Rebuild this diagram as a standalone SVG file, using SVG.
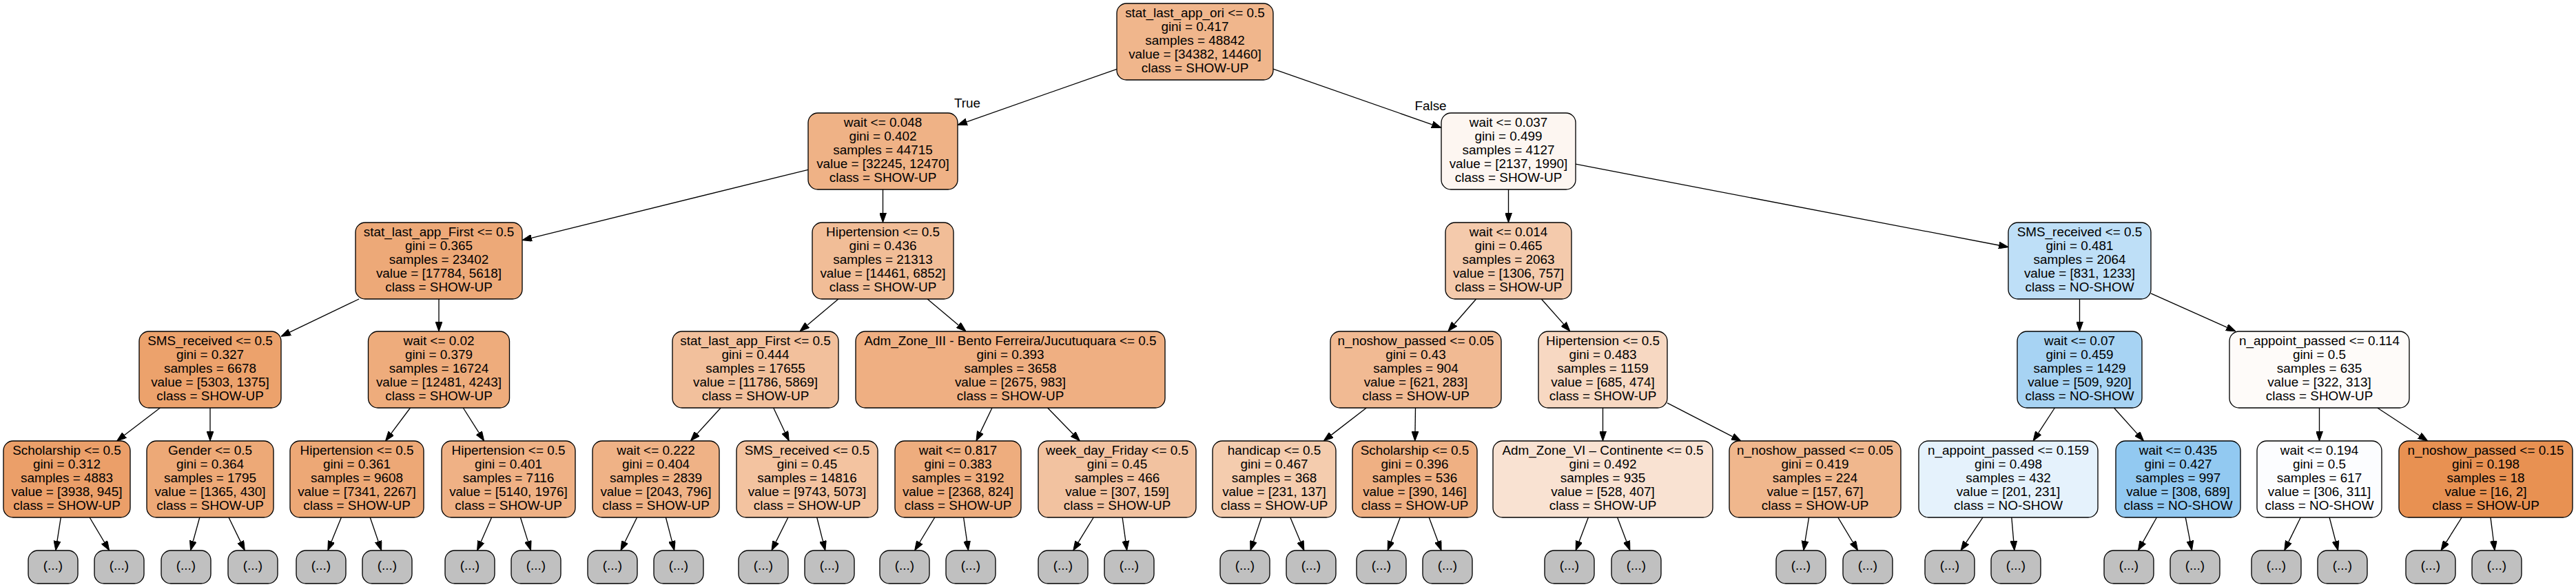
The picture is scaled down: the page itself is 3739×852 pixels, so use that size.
<svg xmlns="http://www.w3.org/2000/svg" width="3739" height="852" viewBox="0 0 3739 852">
<style>
.node rect{stroke:#000;stroke-width:1.33}
.leaf rect{fill:#c0c0c0;stroke:#000;stroke-width:1.33}
text{font-family:"Liberation Sans",Arial,Helvetica,sans-serif;font-size:18.9px;fill:#000;text-anchor:middle}
#edges line{stroke:#000;stroke-width:1.33;fill:none}
</style>
<defs>
<marker id="ah" viewBox="0 0 14 10" refX="0" refY="5" markerWidth="14" markerHeight="10" markerUnits="userSpaceOnUse" orient="auto"><path d="M0,0 L14,5 L0,10 z" fill="#000" stroke="#000" stroke-width="1"/></marker>
</defs>
<rect x="0" y="0" width="3739" height="852" fill="#fff"/>
<g id="edges">
<line x1="1621" y1="100.3" x2="1403.2" y2="176.8" marker-end="url(#ah)"/>
<line x1="1848" y1="100.2" x2="2078.8" y2="180.8" marker-end="url(#ah)"/>
<line x1="1173" y1="246.3" x2="771.6" y2="345.3" marker-end="url(#ah)"/>
<line x1="1281.5" y1="275" x2="1281.5" y2="309" marker-end="url(#ah)"/>
<line x1="2189.5" y1="275" x2="2189.5" y2="309" marker-end="url(#ah)"/>
<line x1="2287" y1="238.2" x2="2901.3" y2="356" marker-end="url(#ah)"/>
<line x1="521.1" y1="434" x2="420.6" y2="482.2" marker-end="url(#ah)"/>
<line x1="637" y1="434" x2="637" y2="467" marker-end="url(#ah)"/>
<line x1="1216.9" y1="434" x2="1171.7" y2="471.9" marker-end="url(#ah)"/>
<line x1="1346.1" y1="434" x2="1391.3" y2="471.9" marker-end="url(#ah)"/>
<line x1="2142.6" y1="434" x2="2111" y2="470.3" marker-end="url(#ah)"/>
<line x1="2237.3" y1="434" x2="2269.6" y2="470.4" marker-end="url(#ah)"/>
<line x1="3018.5" y1="434" x2="3018.5" y2="467" marker-end="url(#ah)"/>
<line x1="3122" y1="425.8" x2="3232.3" y2="475.2" marker-end="url(#ah)"/>
<line x1="232.4" y1="592" x2="180.7" y2="631.5" marker-end="url(#ah)"/>
<line x1="305" y1="592" x2="305" y2="626" marker-end="url(#ah)"/>
<line x1="595.5" y1="592" x2="567.9" y2="628.8" marker-end="url(#ah)"/>
<line x1="672.3" y1="592" x2="695.2" y2="628.2" marker-end="url(#ah)"/>
<line x1="1046.1" y1="592" x2="1011.8" y2="629.6" marker-end="url(#ah)"/>
<line x1="1122.7" y1="592" x2="1139.3" y2="627.3" marker-end="url(#ah)"/>
<line x1="1440" y1="592" x2="1423" y2="627.4" marker-end="url(#ah)"/>
<line x1="1520.6" y1="592" x2="1557.6" y2="630" marker-end="url(#ah)"/>
<line x1="1983.3" y1="592" x2="1932.3" y2="631.4" marker-end="url(#ah)"/>
<line x1="2054.5" y1="592" x2="2054" y2="626" marker-end="url(#ah)"/>
<line x1="2326.5" y1="592" x2="2326.5" y2="626" marker-end="url(#ah)"/>
<line x1="2420" y1="584.8" x2="2514.6" y2="633.6" marker-end="url(#ah)"/>
<line x1="2982.4" y1="592" x2="2958.7" y2="628.3" marker-end="url(#ah)"/>
<line x1="3068.4" y1="592" x2="3102.2" y2="629.6" marker-end="url(#ah)"/>
<line x1="3366.5" y1="592" x2="3366.5" y2="626" marker-end="url(#ah)"/>
<line x1="3450.8" y1="592" x2="3512" y2="632.3" marker-end="url(#ah)"/>
<line x1="88.3" y1="751" x2="83" y2="785.2" marker-end="url(#ah)"/>
<line x1="130.1" y1="751" x2="151.5" y2="787" marker-end="url(#ah)"/>
<line x1="289.8" y1="751" x2="280.3" y2="785.5" marker-end="url(#ah)"/>
<line x1="332" y1="751" x2="349.2" y2="786.4" marker-end="url(#ah)"/>
<line x1="495.4" y1="751" x2="481.1" y2="786" marker-end="url(#ah)"/>
<line x1="537.2" y1="751" x2="549.1" y2="785.8" marker-end="url(#ah)"/>
<line x1="713.6" y1="751" x2="698.2" y2="786.2" marker-end="url(#ah)"/>
<line x1="755.4" y1="751" x2="766.3" y2="785.6" marker-end="url(#ah)"/>
<line x1="924.6" y1="751" x2="907.1" y2="786.5" marker-end="url(#ah)"/>
<line x1="966.4" y1="751" x2="975.3" y2="785.4" marker-end="url(#ah)"/>
<line x1="1143.9" y1="751" x2="1126.2" y2="786.5" marker-end="url(#ah)"/>
<line x1="1185.7" y1="751" x2="1194.4" y2="785.4" marker-end="url(#ah)"/>
<line x1="1356.8" y1="751" x2="1334.9" y2="787" marker-end="url(#ah)"/>
<line x1="1398.6" y1="751" x2="1403.5" y2="785.1" marker-end="url(#ah)"/>
<line x1="1587.3" y1="751" x2="1565.1" y2="787.1" marker-end="url(#ah)"/>
<line x1="1629.1" y1="751" x2="1633.8" y2="785.1" marker-end="url(#ah)"/>
<line x1="1831" y1="751" x2="1819.4" y2="785.7" marker-end="url(#ah)"/>
<line x1="1872.8" y1="751" x2="1887.5" y2="786.1" marker-end="url(#ah)"/>
<line x1="2032.4" y1="751" x2="2019.1" y2="785.9" marker-end="url(#ah)"/>
<line x1="2074.2" y1="751" x2="2087.2" y2="785.9" marker-end="url(#ah)"/>
<line x1="2305.4" y1="751" x2="2292.1" y2="785.9" marker-end="url(#ah)"/>
<line x1="2347.6" y1="751" x2="2360.9" y2="785.9" marker-end="url(#ah)"/>
<line x1="2625.6" y1="751" x2="2620.1" y2="785.2" marker-end="url(#ah)"/>
<line x1="2667.8" y1="751" x2="2689.4" y2="787" marker-end="url(#ah)"/>
<line x1="2878" y1="751" x2="2853.8" y2="787.4" marker-end="url(#ah)"/>
<line x1="2919.8" y1="751" x2="2922.7" y2="785.1" marker-end="url(#ah)"/>
<line x1="3130.4" y1="751" x2="3110.3" y2="786.8" marker-end="url(#ah)"/>
<line x1="3172.2" y1="751" x2="3178.8" y2="785.2" marker-end="url(#ah)"/>
<line x1="3339.3" y1="751" x2="3321.9" y2="786.4" marker-end="url(#ah)"/>
<line x1="3381.1" y1="751" x2="3390.1" y2="785.5" marker-end="url(#ah)"/>
<line x1="3573.2" y1="751" x2="3550.5" y2="787.1" marker-end="url(#ah)"/>
<line x1="3615" y1="751" x2="3619.3" y2="785.1" marker-end="url(#ah)"/>
<text x="1404" y="156">True</text>
<text x="2076.5" y="160">False</text>
</g>
<g id="n0" class="node"><rect x="1621" y="5" width="227" height="111" rx="14" fill="#f0b68c"/><text y="25"><tspan x="1734.5">stat_last_app_ori &lt;= 0.5</tspan><tspan x="1734.5" dy="20">gini = 0.417</tspan><tspan x="1734.5" dy="20">samples = 48842</tspan><tspan x="1734.5" dy="20">value = [34382, 14460]</tspan><tspan x="1734.5" dy="20">class = SHOW-UP</tspan></text></g>
<g id="n1" class="node"><rect x="1173" y="164" width="217" height="111" rx="14" fill="#efb286"/><text y="184"><tspan x="1281.5">wait &lt;= 0.048</tspan><tspan x="1281.5" dy="20">gini = 0.402</tspan><tspan x="1281.5" dy="20">samples = 44715</tspan><tspan x="1281.5" dy="20">value = [32245, 12470]</tspan><tspan x="1281.5" dy="20">class = SHOW-UP</tspan></text></g>
<g id="n2" class="node"><rect x="2092" y="164" width="195" height="111" rx="14" fill="#fdf6f1"/><text y="184"><tspan x="2189.5">wait &lt;= 0.037</tspan><tspan x="2189.5" dy="20">gini = 0.499</tspan><tspan x="2189.5" dy="20">samples = 4127</tspan><tspan x="2189.5" dy="20">value = [2137, 1990]</tspan><tspan x="2189.5" dy="20">class = SHOW-UP</tspan></text></g>
<g id="n3" class="node"><rect x="516" y="323" width="242" height="111" rx="14" fill="#eda978"/><text y="343"><tspan x="637">stat_last_app_First &lt;= 0.5</tspan><tspan x="637" dy="20">gini = 0.365</tspan><tspan x="637" dy="20">samples = 23402</tspan><tspan x="637" dy="20">value = [17784, 5618]</tspan><tspan x="637" dy="20">class = SHOW-UP</tspan></text></g>
<g id="n4" class="node"><rect x="1179" y="323" width="205" height="111" rx="14" fill="#f1bd97"/><text y="343"><tspan x="1281.5">Hipertension &lt;= 0.5</tspan><tspan x="1281.5" dy="20">gini = 0.436</tspan><tspan x="1281.5" dy="20">samples = 21313</tspan><tspan x="1281.5" dy="20">value = [14461, 6852]</tspan><tspan x="1281.5" dy="20">class = SHOW-UP</tspan></text></g>
<g id="n5" class="node"><rect x="2098" y="323" width="183" height="111" rx="14" fill="#f4caac"/><text y="343"><tspan x="2189.5">wait &lt;= 0.014</tspan><tspan x="2189.5" dy="20">gini = 0.465</tspan><tspan x="2189.5" dy="20">samples = 2063</tspan><tspan x="2189.5" dy="20">value = [1306, 757]</tspan><tspan x="2189.5" dy="20">class = SHOW-UP</tspan></text></g>
<g id="n6" class="node"><rect x="2915" y="323" width="207" height="111" rx="14" fill="#bedff7"/><text y="343"><tspan x="3018.5">SMS_received &lt;= 0.5</tspan><tspan x="3018.5" dy="20">gini = 0.481</tspan><tspan x="3018.5" dy="20">samples = 2064</tspan><tspan x="3018.5" dy="20">value = [831, 1233]</tspan><tspan x="3018.5" dy="20">class = NO-SHOW</tspan></text></g>
<g id="n7" class="node"><rect x="202" y="481" width="206" height="111" rx="14" fill="#eca26c"/><text y="501"><tspan x="305">SMS_received &lt;= 0.5</tspan><tspan x="305" dy="20">gini = 0.327</tspan><tspan x="305" dy="20">samples = 6678</tspan><tspan x="305" dy="20">value = [5303, 1375]</tspan><tspan x="305" dy="20">class = SHOW-UP</tspan></text></g>
<g id="n8" class="node"><rect x="534.5" y="481" width="205" height="111" rx="14" fill="#eeac7c"/><text y="501"><tspan x="637">wait &lt;= 0.02</tspan><tspan x="637" dy="20">gini = 0.379</tspan><tspan x="637" dy="20">samples = 16724</tspan><tspan x="637" dy="20">value = [12481, 4243]</tspan><tspan x="637" dy="20">class = SHOW-UP</tspan></text></g>
<g id="n9" class="node"><rect x="976" y="481" width="241" height="111" rx="14" fill="#f2c09c"/><text y="501"><tspan x="1096.5">stat_last_app_First &lt;= 0.5</tspan><tspan x="1096.5" dy="20">gini = 0.444</tspan><tspan x="1096.5" dy="20">samples = 17655</tspan><tspan x="1096.5" dy="20">value = [11786, 5869]</tspan><tspan x="1096.5" dy="20">class = SHOW-UP</tspan></text></g>
<g id="n10" class="node"><rect x="1242" y="481" width="449" height="111" rx="14" fill="#efaf82"/><text y="501"><tspan x="1466.5">Adm_Zone_III - Bento Ferreira/Jucutuquara &lt;= 0.5</tspan><tspan x="1466.5" dy="20">gini = 0.393</tspan><tspan x="1466.5" dy="20">samples = 3658</tspan><tspan x="1466.5" dy="20">value = [2675, 983]</tspan><tspan x="1466.5" dy="20">class = SHOW-UP</tspan></text></g>
<g id="n11" class="node"><rect x="1931" y="481" width="248" height="111" rx="14" fill="#f1ba93"/><text y="501"><tspan x="2055">n_noshow_passed &lt;= 0.05</tspan><tspan x="2055" dy="20">gini = 0.43</tspan><tspan x="2055" dy="20">samples = 904</tspan><tspan x="2055" dy="20">value = [621, 283]</tspan><tspan x="2055" dy="20">class = SHOW-UP</tspan></text></g>
<g id="n12" class="node"><rect x="2233" y="481" width="187" height="111" rx="14" fill="#f7d8c2"/><text y="501"><tspan x="2326.5">Hipertension &lt;= 0.5</tspan><tspan x="2326.5" dy="20">gini = 0.483</tspan><tspan x="2326.5" dy="20">samples = 1159</tspan><tspan x="2326.5" dy="20">value = [685, 474]</tspan><tspan x="2326.5" dy="20">class = SHOW-UP</tspan></text></g>
<g id="n13" class="node"><rect x="2928" y="481" width="181" height="111" rx="14" fill="#a7d3f3"/><text y="501"><tspan x="3018.5">wait &lt;= 0.07</tspan><tspan x="3018.5" dy="20">gini = 0.459</tspan><tspan x="3018.5" dy="20">samples = 1429</tspan><tspan x="3018.5" dy="20">value = [509, 920]</tspan><tspan x="3018.5" dy="20">class = NO-SHOW</tspan></text></g>
<g id="n14" class="node"><rect x="3236" y="481" width="261" height="111" rx="14" fill="#fefbf9"/><text y="501"><tspan x="3366.5">n_appoint_passed &lt;= 0.114</tspan><tspan x="3366.5" dy="20">gini = 0.5</tspan><tspan x="3366.5" dy="20">samples = 635</tspan><tspan x="3366.5" dy="20">value = [322, 313]</tspan><tspan x="3366.5" dy="20">class = SHOW-UP</tspan></text></g>
<g id="n15" class="node"><rect x="5" y="640" width="184" height="111" rx="14" fill="#eb9f69"/><text y="660"><tspan x="97">Scholarship &lt;= 0.5</tspan><tspan x="97" dy="20">gini = 0.312</tspan><tspan x="97" dy="20">samples = 4883</tspan><tspan x="97" dy="20">value = [3938, 945]</tspan><tspan x="97" dy="20">class = SHOW-UP</tspan></text></g>
<g id="n16" class="node"><rect x="213" y="640" width="184" height="111" rx="14" fill="#eda977"/><text y="660"><tspan x="305">Gender &lt;= 0.5</tspan><tspan x="305" dy="20">gini = 0.364</tspan><tspan x="305" dy="20">samples = 1795</tspan><tspan x="305" dy="20">value = [1365, 430]</tspan><tspan x="305" dy="20">class = SHOW-UP</tspan></text></g>
<g id="n17" class="node"><rect x="421" y="640" width="194" height="111" rx="14" fill="#eda876"/><text y="660"><tspan x="518">Hipertension &lt;= 0.5</tspan><tspan x="518" dy="20">gini = 0.361</tspan><tspan x="518" dy="20">samples = 9608</tspan><tspan x="518" dy="20">value = [7341, 2267]</tspan><tspan x="518" dy="20">class = SHOW-UP</tspan></text></g>
<g id="n18" class="node"><rect x="641" y="640" width="194" height="111" rx="14" fill="#efb185"/><text y="660"><tspan x="738">Hipertension &lt;= 0.5</tspan><tspan x="738" dy="20">gini = 0.401</tspan><tspan x="738" dy="20">samples = 7116</tspan><tspan x="738" dy="20">value = [5140, 1976]</tspan><tspan x="738" dy="20">class = SHOW-UP</tspan></text></g>
<g id="n19" class="node"><rect x="860" y="640" width="184" height="111" rx="14" fill="#efb286"/><text y="660"><tspan x="952">wait &lt;= 0.222</tspan><tspan x="952" dy="20">gini = 0.404</tspan><tspan x="952" dy="20">samples = 2839</tspan><tspan x="952" dy="20">value = [2043, 796]</tspan><tspan x="952" dy="20">class = SHOW-UP</tspan></text></g>
<g id="n20" class="node"><rect x="1069" y="640" width="205" height="111" rx="14" fill="#f3c3a0"/><text y="660"><tspan x="1171.5">SMS_received &lt;= 0.5</tspan><tspan x="1171.5" dy="20">gini = 0.45</tspan><tspan x="1171.5" dy="20">samples = 14816</tspan><tspan x="1171.5" dy="20">value = [9743, 5073]</tspan><tspan x="1171.5" dy="20">class = SHOW-UP</tspan></text></g>
<g id="n21" class="node"><rect x="1299" y="640" width="183" height="111" rx="14" fill="#eead7e"/><text y="660"><tspan x="1390.5">wait &lt;= 0.817</tspan><tspan x="1390.5" dy="20">gini = 0.383</tspan><tspan x="1390.5" dy="20">samples = 3192</tspan><tspan x="1390.5" dy="20">value = [2368, 824]</tspan><tspan x="1390.5" dy="20">class = SHOW-UP</tspan></text></g>
<g id="n22" class="node"><rect x="1507" y="640" width="229" height="111" rx="14" fill="#f2c2a0"/><text y="660"><tspan x="1621.5">week_day_Friday &lt;= 0.5</tspan><tspan x="1621.5" dy="20">gini = 0.45</tspan><tspan x="1621.5" dy="20">samples = 466</tspan><tspan x="1621.5" dy="20">value = [307, 159]</tspan><tspan x="1621.5" dy="20">class = SHOW-UP</tspan></text></g>
<g id="n23" class="node"><rect x="1760" y="640" width="179" height="111" rx="14" fill="#f4ccae"/><text y="660"><tspan x="1849.5">handicap &lt;= 0.5</tspan><tspan x="1849.5" dy="20">gini = 0.467</tspan><tspan x="1849.5" dy="20">samples = 368</tspan><tspan x="1849.5" dy="20">value = [231, 137]</tspan><tspan x="1849.5" dy="20">class = SHOW-UP</tspan></text></g>
<g id="n24" class="node"><rect x="1963" y="640" width="181" height="111" rx="14" fill="#efb083"/><text y="660"><tspan x="2053.5">Scholarship &lt;= 0.5</tspan><tspan x="2053.5" dy="20">gini = 0.396</tspan><tspan x="2053.5" dy="20">samples = 536</tspan><tspan x="2053.5" dy="20">value = [390, 146]</tspan><tspan x="2053.5" dy="20">class = SHOW-UP</tspan></text></g>
<g id="n25" class="node"><rect x="2167" y="640" width="319" height="111" rx="14" fill="#f9e2d2"/><text y="660"><tspan x="2326.5">Adm_Zone_VI – Continente &lt;= 0.5</tspan><tspan x="2326.5" dy="20">gini = 0.492</tspan><tspan x="2326.5" dy="20">samples = 935</tspan><tspan x="2326.5" dy="20">value = [528, 407]</tspan><tspan x="2326.5" dy="20">class = SHOW-UP</tspan></text></g>
<g id="n26" class="node"><rect x="2510" y="640" width="249" height="111" rx="14" fill="#f0b78d"/><text y="660"><tspan x="2634.5">n_noshow_passed &lt;= 0.05</tspan><tspan x="2634.5" dy="20">gini = 0.419</tspan><tspan x="2634.5" dy="20">samples = 224</tspan><tspan x="2634.5" dy="20">value = [157, 67]</tspan><tspan x="2634.5" dy="20">class = SHOW-UP</tspan></text></g>
<g id="n27" class="node"><rect x="2785" y="640" width="260" height="111" rx="14" fill="#e5f2fc"/><text y="660"><tspan x="2915">n_appoint_passed &lt;= 0.159</tspan><tspan x="2915" dy="20">gini = 0.498</tspan><tspan x="2915" dy="20">samples = 432</tspan><tspan x="2915" dy="20">value = [201, 231]</tspan><tspan x="2915" dy="20">class = NO-SHOW</tspan></text></g>
<g id="n28" class="node"><rect x="3071" y="640" width="181" height="111" rx="14" fill="#92c9f1"/><text y="660"><tspan x="3161.5">wait &lt;= 0.435</tspan><tspan x="3161.5" dy="20">gini = 0.427</tspan><tspan x="3161.5" dy="20">samples = 997</tspan><tspan x="3161.5" dy="20">value = [308, 689]</tspan><tspan x="3161.5" dy="20">class = NO-SHOW</tspan></text></g>
<g id="n29" class="node"><rect x="3276" y="640" width="181" height="111" rx="14" fill="#fcfdff"/><text y="660"><tspan x="3366.5">wait &lt;= 0.194</tspan><tspan x="3366.5" dy="20">gini = 0.5</tspan><tspan x="3366.5" dy="20">samples = 617</tspan><tspan x="3366.5" dy="20">value = [306, 311]</tspan><tspan x="3366.5" dy="20">class = NO-SHOW</tspan></text></g>
<g id="n30" class="node"><rect x="3482" y="640" width="252" height="111" rx="14" fill="#e89152"/><text y="660"><tspan x="3608">n_noshow_passed &lt;= 0.15</tspan><tspan x="3608" dy="20">gini = 0.198</tspan><tspan x="3608" dy="20">samples = 18</tspan><tspan x="3608" dy="20">value = [16, 2]</tspan><tspan x="3608" dy="20">class = SHOW-UP</tspan></text></g>
<g id="leaf1" class="leaf"><rect x="41" y="799" width="72" height="48" rx="14"/><text x="77" y="827">(...)</text></g>
<g id="leaf2" class="leaf"><rect x="137" y="799" width="72" height="48" rx="14"/><text x="173" y="827">(...)</text></g>
<g id="leaf3" class="leaf"><rect x="234" y="799" width="72" height="48" rx="14"/><text x="270" y="827">(...)</text></g>
<g id="leaf4" class="leaf"><rect x="331" y="799" width="72" height="48" rx="14"/><text x="367" y="827">(...)</text></g>
<g id="leaf5" class="leaf"><rect x="430" y="799" width="72" height="48" rx="14"/><text x="466" y="827">(...)</text></g>
<g id="leaf6" class="leaf"><rect x="526" y="799" width="72" height="48" rx="14"/><text x="562" y="827">(...)</text></g>
<g id="leaf7" class="leaf"><rect x="646" y="799" width="72" height="48" rx="14"/><text x="682" y="827">(...)</text></g>
<g id="leaf8" class="leaf"><rect x="742" y="799" width="72" height="48" rx="14"/><text x="778" y="827">(...)</text></g>
<g id="leaf9" class="leaf"><rect x="853" y="799" width="72" height="48" rx="14"/><text x="889" y="827">(...)</text></g>
<g id="leaf10" class="leaf"><rect x="949" y="799" width="72" height="48" rx="14"/><text x="985" y="827">(...)</text></g>
<g id="leaf11" class="leaf"><rect x="1072" y="799" width="72" height="48" rx="14"/><text x="1108" y="827">(...)</text></g>
<g id="leaf12" class="leaf"><rect x="1168" y="799" width="72" height="48" rx="14"/><text x="1204" y="827">(...)</text></g>
<g id="leaf13" class="leaf"><rect x="1277" y="799" width="72" height="48" rx="14"/><text x="1313" y="827">(...)</text></g>
<g id="leaf14" class="leaf"><rect x="1373" y="799" width="72" height="48" rx="14"/><text x="1409" y="827">(...)</text></g>
<g id="leaf15" class="leaf"><rect x="1507" y="799" width="72" height="48" rx="14"/><text x="1543" y="827">(...)</text></g>
<g id="leaf16" class="leaf"><rect x="1603" y="799" width="72" height="48" rx="14"/><text x="1639" y="827">(...)</text></g>
<g id="leaf17" class="leaf"><rect x="1771" y="799" width="72" height="48" rx="14"/><text x="1807" y="827">(...)</text></g>
<g id="leaf18" class="leaf"><rect x="1867" y="799" width="72" height="48" rx="14"/><text x="1903" y="827">(...)</text></g>
<g id="leaf19" class="leaf"><rect x="1969" y="799" width="72" height="48" rx="14"/><text x="2005" y="827">(...)</text></g>
<g id="leaf20" class="leaf"><rect x="2065" y="799" width="72" height="48" rx="14"/><text x="2101" y="827">(...)</text></g>
<g id="leaf21" class="leaf"><rect x="2242" y="799" width="72" height="48" rx="14"/><text x="2278" y="827">(...)</text></g>
<g id="leaf22" class="leaf"><rect x="2339" y="799" width="72" height="48" rx="14"/><text x="2375" y="827">(...)</text></g>
<g id="leaf23" class="leaf"><rect x="2578" y="799" width="72" height="48" rx="14"/><text x="2614" y="827">(...)</text></g>
<g id="leaf24" class="leaf"><rect x="2675" y="799" width="72" height="48" rx="14"/><text x="2711" y="827">(...)</text></g>
<g id="leaf25" class="leaf"><rect x="2794" y="799" width="72" height="48" rx="14"/><text x="2830" y="827">(...)</text></g>
<g id="leaf26" class="leaf"><rect x="2890" y="799" width="72" height="48" rx="14"/><text x="2926" y="827">(...)</text></g>
<g id="leaf27" class="leaf"><rect x="3054" y="799" width="72" height="48" rx="14"/><text x="3090" y="827">(...)</text></g>
<g id="leaf28" class="leaf"><rect x="3150" y="799" width="72" height="48" rx="14"/><text x="3186" y="827">(...)</text></g>
<g id="leaf29" class="leaf"><rect x="3268" y="799" width="72" height="48" rx="14"/><text x="3304" y="827">(...)</text></g>
<g id="leaf30" class="leaf"><rect x="3364" y="799" width="72" height="48" rx="14"/><text x="3400" y="827">(...)</text></g>
<g id="leaf31" class="leaf"><rect x="3492" y="799" width="72" height="48" rx="14"/><text x="3528" y="827">(...)</text></g>
<g id="leaf32" class="leaf"><rect x="3588" y="799" width="72" height="48" rx="14"/><text x="3624" y="827">(...)</text></g>
</svg>
